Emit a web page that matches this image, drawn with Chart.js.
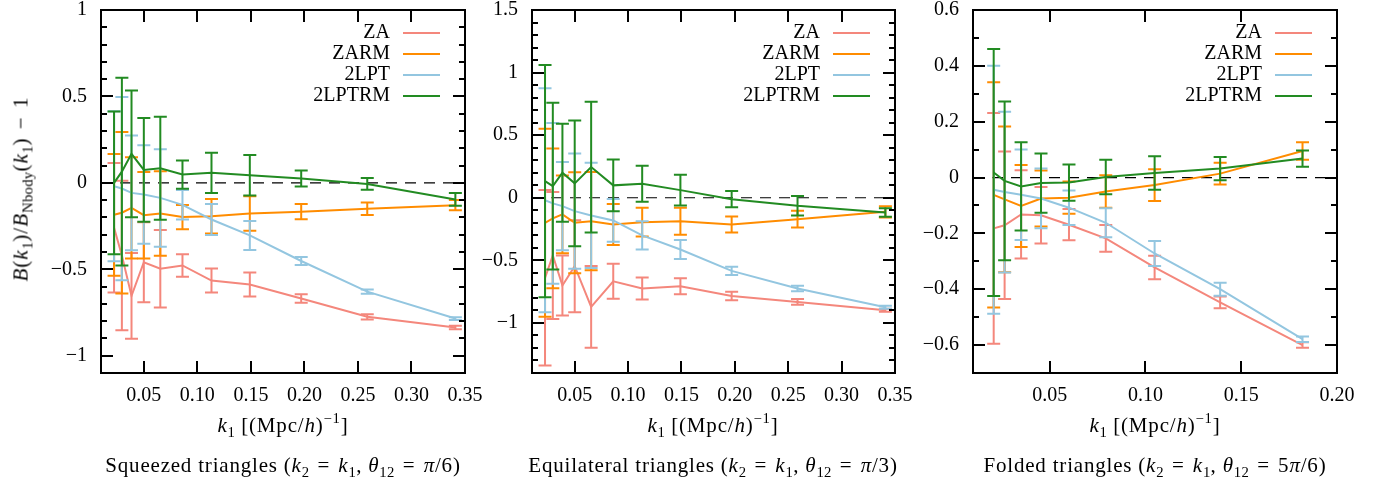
<!DOCTYPE html>
<html>
<head>
<meta charset="utf-8">
<script src="https://cdn.jsdelivr.net/npm/chart.js@4.4.1/dist/chart.umd.min.js"></script>
<style>
    body { margin: 0; background: #fff; width: 1380px; height: 483px; position: relative; overflow: hidden;
           font-family: 'Liberation Serif', serif; font-size: 21px; color: #000; }
    canvas { position: absolute; left: 0; top: 0; }
    .lbl { position: absolute; white-space: nowrap; transform: translate(-50%, -50%); line-height: 1; letter-spacing: 0.8px; }
    .rot { transform: translate(-50%, -50%) rotate(-90deg); letter-spacing: 1px; }
    .rel { margin: 0 0.1em; }
    sub { font-size: 0.7em; vertical-align: -0.35em; line-height: 0; letter-spacing: 0.3px; }
    sup { font-size: 0.7em; vertical-align: 0.6em; line-height: 0; }
</style>
</head>
<body>
<canvas id="sq" width="1380" height="483"></canvas>
<canvas id="eq" width="1380" height="483"></canvas>
<canvas id="fo" width="1380" height="483"></canvas>

<div class="lbl rot" style="left:21px; top:189px"><i>B</i>(<i>k</i><sub>1</sub>)/<i>B</i><sub>Nbody</sub>(<i>k</i><sub>1</sub>) <span class="rel">−</span> 1</div>
<div class="lbl" style="left:283px; top:425px"><i>k</i><sub>1</sub> [(Mpc/<i>h</i>)<sup>−1</sup>]</div>
<div class="lbl" style="left:713px; top:425px"><i>k</i><sub>1</sub> [(Mpc/<i>h</i>)<sup>−1</sup>]</div>
<div class="lbl" style="left:1155px; top:425px"><i>k</i><sub>1</sub> [(Mpc/<i>h</i>)<sup>−1</sup>]</div>
<div class="lbl" style="left:283px; top:465px">Squeezed triangles (<i>k</i><sub>2</sub> <span class="rel">=</span> <i>k</i><sub>1</sub>, <i>θ</i><sub>12</sub> <span class="rel">=</span> <i>π</i>/6)</div>
<div class="lbl" style="left:713px; top:465px">Equilateral triangles (<i>k</i><sub>2</sub> <span class="rel">=</span> <i>k</i><sub>1</sub>, <i>θ</i><sub>12</sub> <span class="rel">=</span> <i>π</i>/3)</div>
<div class="lbl" style="left:1155px; top:465px">Folded triangles (<i>k</i><sub>2</sub> <span class="rel">=</span> <i>k</i><sub>1</sub>, <i>θ</i><sub>12</sub> <span class="rel">=</span> 5<i>π</i>/6)</div>

<script>
// k bins
const kBins = [0.0222, 0.0295, 0.0385, 0.0500, 0.0654, 0.0861, 0.1132, 0.1490, 0.1970, 0.2587, 0.3410];
const kFolded = [0.0208, 0.0265, 0.0351, 0.0455, 0.0601, 0.0793, 0.1048, 0.1390, 0.1820];

// squeezed
const sqZA = [-0.26, -0.42, -0.654, -0.459, -0.497, -0.478, -0.565, -0.588, -0.669, -0.775, -0.837];
const sqZAerr = [0.375, 0.432, 0.248, 0.231, 0.224, 0.065, 0.07, 0.07, 0.024, 0.015, 0.01];
const sqZARM = [-0.185, -0.173, -0.145, -0.187, -0.177, -0.198, -0.193, -0.177, -0.167, -0.15, -0.129];
const sqZARMerr = [0.352, 0.467, 0.293, 0.25, 0.244, 0.07, 0.1, 0.1, 0.044, 0.036, 0.03];
const sq2LPT = [-0.02, -0.033, -0.058, -0.067, -0.087, -0.127, -0.212, -0.304, -0.452, -0.629, -0.785];
const sq2LPTerr = [0.434, 0.53, 0.332, 0.285, 0.282, 0.085, 0.09, 0.084, 0.023, 0.012, 0.008];
const sq2LPTRM = [0.0, 0.065, 0.168, 0.075, 0.085, 0.048, 0.058, 0.044, 0.025, -0.006, -0.096];
const sq2LPTRMerr = [0.413, 0.543, 0.367, 0.3, 0.298, 0.082, 0.116, 0.117, 0.046, 0.034, 0.037];

// equilateral
const eqZA = [-0.64, -0.461, -0.701, -0.547, -0.872, -0.667, -0.725, -0.707, -0.784, -0.832, -0.899];
const eqZAerr = [0.701, 0.507, 0.24, 0.368, 0.327, 0.14, 0.087, 0.064, 0.034, 0.023, 0.012];
const eqZARM = [-0.2, -0.165, -0.133, -0.2, -0.187, -0.213, -0.195, -0.187, -0.213, -0.171, -0.112];
const eqZARMerr = [0.751, 0.558, 0.31, 0.403, 0.393, 0.164, 0.115, 0.108, 0.064, 0.067, 0.045];
const eq2LPT = [-0.02, -0.045, -0.067, -0.107, -0.141, -0.181, -0.301, -0.413, -0.584, -0.725, -0.875];
const eq2LPTerr = [0.895, 0.642, 0.353, 0.46, 0.42, 0.171, 0.113, 0.076, 0.033, 0.022, 0.012];
const eq2LPTRM = [0.133, 0.093, 0.2, 0.115, 0.245, 0.099, 0.112, 0.061, -0.011, -0.064, -0.117];
const eq2LPTRMerr = [0.927, 0.667, 0.392, 0.503, 0.522, 0.207, 0.144, 0.123, 0.065, 0.078, 0.034];

// folded
const foZA = [-0.182, -0.171, -0.132, -0.135, -0.169, -0.218, -0.322, -0.447, -0.6];
const foZAerr = [0.413, 0.264, 0.158, 0.101, 0.056, 0.048, 0.042, 0.021, 0.01];
const foZARM = [-0.062, -0.078, -0.102, -0.075, -0.072, -0.05, -0.027, 0.014, 0.095];
const foZARMerr = [0.403, 0.261, 0.147, 0.1, 0.058, 0.058, 0.057, 0.039, 0.031];
const fo2LPT = [-0.044, -0.052, -0.062, -0.075, -0.108, -0.162, -0.272, -0.4, -0.579];
const fo2LPTerr = [0.444, 0.288, 0.162, 0.107, 0.062, 0.052, 0.045, 0.023, 0.01];
const fo2LPTRM = [0.018, -0.012, -0.032, -0.02, -0.018, 0.002, 0.016, 0.032, 0.068];
const fo2LPTRMerr = [0.442, 0.284, 0.158, 0.106, 0.065, 0.062, 0.06, 0.042, 0.029];

// ticks
const xTicksWide = [0.05, 0.10, 0.15, 0.20, 0.25, 0.30, 0.35];
const xTicksFolded = [0.05, 0.10, 0.15, 0.20];
const yTicksSq = [-1, -0.5, 0, 0.5, 1];
const yTicksEq = [-1, -0.5, 0, 0.5, 1, 1.5];
const yTicksFo = [-0.6, -0.4, -0.2, 0, 0.2, 0.4, 0.6];

const names = ['ZA', 'ZARM', '2LPT', '2LPTRM'];
const colors = ['#f4877c', '#ff8c00', '#93c6e0', '#228b22'];

Chart.defaults.font.family = "'Liberation Serif', serif";
Chart.defaults.font.size = 20;
Chart.defaults.color = '#000';

const fmtNum = v => (v < 0 ? '\u2212' : '') + String(Math.abs(+v.toFixed(2)));

// error bars, drawn right after their own line
const errorBars = {
    id: 'errorBars',
    afterDatasetDraw(chart, args) {
        const ds = chart.data.datasets[args.index];
        if (!ds.err) return;
        const {ctx, scales: {x, y}} = chart;
        ctx.save();
        ctx.strokeStyle = ds.borderColor;
        ctx.lineWidth = 2;
        ds.data.forEach((p, i) => {
            const px = x.getPixelForValue(p.x);
            const lo = y.getPixelForValue(p.y - ds.err[i]);
            const hi = y.getPixelForValue(p.y + ds.err[i]);
            ctx.beginPath();
            ctx.moveTo(px, lo); ctx.lineTo(px, hi);
            ctx.moveTo(px - 6.5, lo); ctx.lineTo(px + 6.5, lo);
            ctx.moveTo(px - 6.5, hi); ctx.lineTo(px + 6.5, hi);
            ctx.stroke();
        });
        ctx.restore();
    }
};

// gnuplot-like border with inward tics on all four sides
const frame = {
    id: 'frame',
    afterDraw(chart) {
        const {ctx, chartArea: a, scales: {x, y}} = chart;
        ctx.save();
        ctx.strokeStyle = '#000';
        ctx.lineWidth = 2;
        ctx.beginPath();
        x.ticks.forEach(t => {
            const px = Math.round(x.getPixelForValue(t.value));
            ctx.moveTo(px, a.bottom); ctx.lineTo(px, a.bottom - 12);
            ctx.moveTo(px, a.top); ctx.lineTo(px, a.top + 12);
        });
        const majors = y.ticks.map(t => t.value);
        for (let v = Math.ceil(y.min * 10 - 1e-6); v <= Math.floor(y.max * 10 + 1e-6); v++) {
            const val = v / 10;
            const len = majors.some(m => Math.abs(m - val) < 1e-6) ? 12 : 6;
            const py = Math.round(y.getPixelForValue(val));
            ctx.moveTo(a.left, py); ctx.lineTo(a.left + len, py);
            ctx.moveTo(a.right, py); ctx.lineTo(a.right - len, py);
        }
        ctx.stroke();
        ctx.strokeRect(a.left, a.top, a.right - a.left, a.bottom - a.top);
        ctx.restore();
    }
};

// right-aligned key, sample line after the text
const key = {
    id: 'key',
    afterDraw(chart) {
        const {ctx, chartArea: a} = chart;
        ctx.save();
        ctx.font = "20px 'Liberation Serif', serif";
        ctx.textAlign = 'right';
        ctx.textBaseline = 'middle';
        ctx.lineWidth = 2;
        chart.data.datasets.filter(d => d.err).forEach((d, i) => {
            const yy = a.top + 23 + i * 21;
            ctx.fillStyle = '#000';
            ctx.fillText(d.label, a.right - 75, yy);
            ctx.strokeStyle = d.borderColor;
            ctx.beginPath();
            ctx.moveTo(a.right - 62, yy); ctx.lineTo(a.right - 25, yy);
            ctx.stroke();
        });
        ctx.restore();
    }
};

function makePanel(id, plotLeft, plotRight, k, series, errs, xMax, yMin, yMax, xTicks, yTicks) {
    const datasets = series.map((vals, s) => ({
        label: names[s],
        data: k.map((kk, i) => ({x: kk, y: vals[i]})),
        err: errs[s],
        borderColor: colors[s],
        borderWidth: 2,
        pointRadius: 0,
        tension: 0,
        order: 4 - s
    }));
    datasets.push({
        label: '',
        data: [{x: 0.01, y: 0}, {x: xMax, y: 0}],
        borderColor: '#000',
        borderWidth: 1.2,
        borderDash: [11, 8],
        pointRadius: 0,
        order: 10
    });
    new Chart(document.getElementById(id), {
        type: 'line',
        data: {datasets},
        options: {
            responsive: false,
            animation: false,
            layout: {padding: {left: plotLeft - 60, right: 1380 - plotRight, top: 10, bottom: 70}},
            plugins: {legend: {display: false}, tooltip: {enabled: false}},
            scales: {
                x: {
                    type: 'linear', min: 0.01, max: xMax,
                    grid: {display: false, drawTicks: false}, border: {display: false},
                    afterBuildTicks: sc => { sc.ticks = xTicks.map(v => ({value: v})); },
                    afterFit: sc => { sc.height = 40; sc.paddingLeft = 0; sc.paddingRight = 0; },
                    ticks: {padding: 11, maxRotation: 0, autoSkip: false, callback: v => v.toFixed(2)}
                },
                y: {
                    type: 'linear', min: yMin, max: yMax,
                    grid: {display: false, drawTicks: false}, border: {display: false},
                    afterBuildTicks: sc => { sc.ticks = yTicks.map(v => ({value: v})); },
                    afterFit: sc => { sc.width = 60; sc.paddingTop = 0; sc.paddingBottom = 0; },
                    ticks: {padding: 14, autoSkip: false, callback: v => fmtNum(v)}
                }
            }
        },
        plugins: [errorBars, frame, key]
    });
}

makePanel('sq', 101, 465, kBins,
    [sqZA, sqZARM, sq2LPT, sq2LPTRM], [sqZAerr, sqZARMerr, sq2LPTerr, sq2LPTRMerr],
    0.35, -1.1, 1, xTicksWide, yTicksSq);
makePanel('eq', 532, 895, kBins,
    [eqZA, eqZARM, eq2LPT, eq2LPTRM], [eqZAerr, eqZARMerr, eq2LPTerr, eq2LPTRMerr],
    0.35, -1.4, 1.5, xTicksWide, yTicksEq);
makePanel('fo', 973, 1337, kFolded,
    [foZA, foZARM, fo2LPT, fo2LPTRM], [foZAerr, foZARMerr, fo2LPTerr, fo2LPTRMerr],
    0.2, -0.7, 0.6, xTicksFolded, yTicksFo);
</script>
</body>
</html>
